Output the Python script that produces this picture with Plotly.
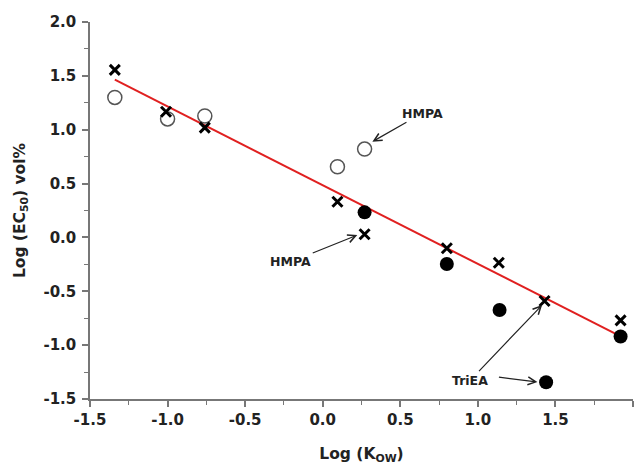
import plotly.graph_objects as go

# Data
cross_x = [-1.34, -1.01, -0.76, 0.095, 0.27, 0.80, 1.135, 1.43, 1.92]
cross_y = [1.555, 1.167, 1.019, 0.331, 0.03, -0.10, -0.235, -0.59, -0.77]

open_x = [-1.34, -1.0, -0.76, 0.095, 0.27]
open_y = [1.30, 1.10, 1.127, 0.656, 0.82]

filled_x = [0.27, 0.80, 1.14, 1.44, 1.92]
filled_y = [0.233, -0.247, -0.674, -1.345, -0.92]

line_x = [-1.34, 1.93]
line_y = [1.465, -0.926]

tick_vals = [-1.5, -1.0, -0.5, 0.0, 0.5, 1.0, 1.5, 2.0]
tick_text = ["-1.5", "-1.0", "-0.5", "0.0", "0.5", "1.0", "1.5", "2.0"]

FONT = "DejaVu Sans, sans-serif"

fig = go.Figure()
fig.add_trace(go.Scatter(x=line_x, y=line_y, mode="lines",
                         line=dict(color="#e02020", width=2), showlegend=False))
fig.add_trace(go.Scatter(x=open_x, y=open_y, mode="markers",
                         marker=dict(symbol="circle-open", size=14,
                                     line=dict(color="#555555", width=1.5), color="#555555"),
                         showlegend=False, cliponaxis=False))
fig.add_trace(go.Scatter(x=filled_x, y=filled_y, mode="markers",
                         marker=dict(symbol="circle", size=14, color="black"),
                         showlegend=False, cliponaxis=False))
fig.add_trace(go.Scatter(x=cross_x, y=cross_y, mode="markers",
                         marker=dict(symbol="x-thin-open", size=10, color="black",
                                     line=dict(color="black", width=3)),
                         showlegend=False, cliponaxis=False))

# Labels with arrows: (text, label x, label y, arrow head x, arrow head y)
labels = [
    ("HMPA", 0.642, 1.152, 0.320, 0.889),
    ("HMPA", -0.206, -0.226, 0.223, 0.022),
    ("TriEA", 0.952, -1.324, 1.414, -0.628),
]
arrow_style = dict(showarrow=True, arrowhead=5, arrowsize=1.3, arrowwidth=1.2,
                   arrowcolor="#222", axref="x", ayref="y", xref="x", yref="y")
for t, lx, ly, hx, hy in labels:
    fig.add_annotation(x=hx, y=hy, ax=lx, ay=ly, text=f"<b>{t}</b>",
                       font=dict(family=FONT, size=12.5, color="#222"), **arrow_style)

# Second TriEA arrow (tail -> head)
fig.add_annotation(x=1.384, y=-1.343, ax=1.126, ay=-1.296, text="", **arrow_style)

axis_common = dict(
    range=[-1.5, 2.0], tickvals=tick_vals, ticktext=tick_text,
    showgrid=False, zeroline=False, showline=True, linecolor="#777", linewidth=1.5,
    ticks="outside", ticklen=6, tickwidth=1.5, tickcolor="#777",
    tickfont=dict(family=FONT, size=15, color="#222", weight="bold"),
    minor=dict(dtick=0.25, ticks="outside", ticklen=4, tickwidth=1.2, tickcolor="#777"),
)

fig.update_xaxes(**axis_common,
                 title=dict(text="Log (K<sub>OW</sub>)", standoff=20,
                            font=dict(family=FONT, size=15.5, color="#222", weight="bold")))
fig.update_yaxes(**axis_common, ticklabelstandoff=3,
                 title=dict(text="Log (EC<sub>50</sub>) vol%", standoff=14,
                            font=dict(family=FONT, size=15.5, color="#222", weight="bold")))

fig.update_layout(width=644, height=465, margin=dict(l=90, r=11, t=22, b=66, autoexpand=False),
                  plot_bgcolor="white", paper_bgcolor="white")

fig.write_html("out.html")
